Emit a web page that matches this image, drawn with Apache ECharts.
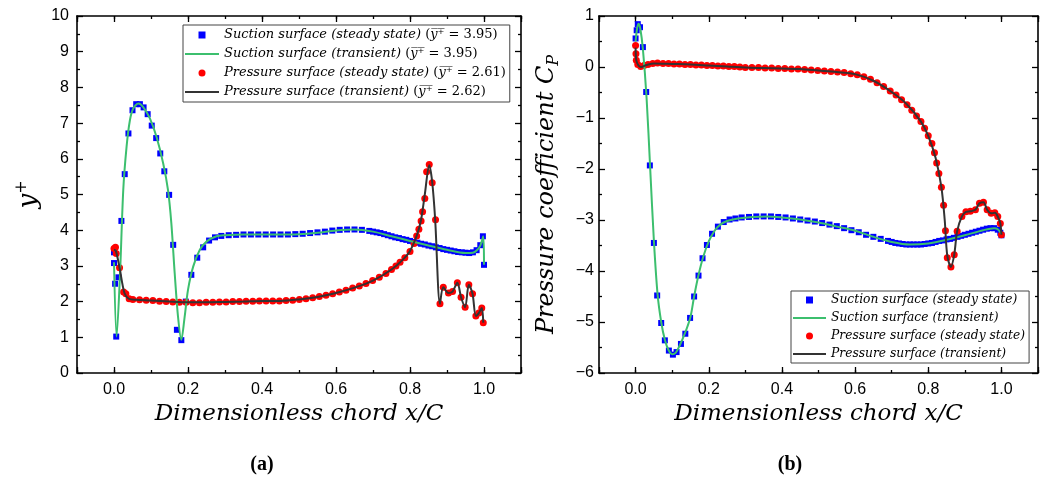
<!DOCTYPE html>
<html><head><meta charset="utf-8">
<script src="https://cdn.jsdelivr.net/npm/echarts@6/dist/echarts.min.js"></script>
<style>html,body{margin:0;padding:0;background:#fff}#c{width:1048px;height:482px}</style>
</head><body><div id="c"></div>
<script>
// ---------- DATA ----------
const seriesNames = ['Suction surface (steady state)', 'Suction surface (transient)', 'Pressure surface (steady state)', 'Pressure surface (transient)'];
const yPlusMeans = ['3.95', '3.95', '2.61', '2.62'];
const xTickLabels = ['0.0', '0.2', '0.4', '0.6', '0.8', '1.0'];

// (a) y+ distribution
const yPlusSuctionSteady = [[0,3.38],[0,3.08],[0.003,2.50],[0.006,1.02],[0.012,2.68],[0.02,4.26],[0.029,5.57],[0.039,6.71],[0.05,7.36],[0.06,7.53],[0.07,7.53],[0.08,7.44],[0.091,7.25],[0.102,6.93],[0.114,6.58],[0.125,6.15],[0.136,5.65],[0.149,4.99],[0.16,3.59],[0.17,1.21],[0.182,0.92],[0.194,2.0],[0.209,2.75],[0.225,3.23],[0.241,3.52],[0.257,3.71],[0.273,3.80],[0.29,3.84],[0.31,3.86],[0.33,3.87],[0.35,3.88],[0.37,3.88],[0.39,3.88],[0.41,3.88],[0.43,3.88],[0.45,3.88],[0.47,3.88],[0.49,3.89],[0.51,3.90],[0.53,3.92],[0.55,3.94],[0.57,3.96],[0.59,3.99],[0.61,4.01],[0.63,4.02],[0.65,4.02],[0.67,4.01],[0.69,3.98],[0.70,3.96],[0.71,3.94],[0.72,3.92],[0.73,3.89],[0.74,3.86],[0.75,3.83],[0.76,3.80],[0.77,3.78],[0.78,3.75],[0.79,3.73],[0.80,3.70],[0.81,3.67],[0.82,3.65],[0.83,3.62],[0.84,3.60],[0.85,3.57],[0.86,3.55],[0.87,3.52],[0.88,3.50],[0.89,3.47],[0.90,3.45],[0.91,3.43],[0.92,3.41],[0.93,3.39],[0.94,3.38],[0.95,3.37],[0.96,3.36],[0.97,3.38],[0.98,3.44],[0.99,3.58],[0.997,3.83],[1.0,3.03]];
const yPlusSuctionTransient = [[0,3.1],[0.007,1.02],[0.016,2.7],[0.025,5.12],[0.034,6.34],[0.043,7.08],[0.052,7.41],[0.066,7.55],[0.079,7.45],[0.097,7.13],[0.115,6.61],[0.133,5.87],[0.146,5.12],[0.155,4.19],[0.164,2.80],[0.173,1.58],[0.182,0.93],[0.191,1.58],[0.2,2.33],[0.214,2.98],[0.232,3.45],[0.25,3.68],[0.277,3.83],[0.3,3.86],[0.35,3.88],[0.4,3.88],[0.45,3.88],[0.5,3.89],[0.55,3.93],[0.6,3.99],[0.65,4.02],[0.7,3.96],[0.75,3.83],[0.8,3.70],[0.85,3.57],[0.9,3.45],[0.95,3.36],[0.97,3.37],[0.98,3.43],[0.99,3.57],[0.998,3.83],[1.0,3.03]];
const yPlusPressureSteady = [[0,3.49],[0.004,3.52],[0.006,3.35],[0.015,2.95],[0.026,2.27],[0.032,2.22],[0.041,2.08],[0.051,2.06],[0.069,2.05],[0.087,2.04],[0.105,2.03],[0.123,2.01],[0.141,2.0],[0.159,1.99],[0.177,1.98],[0.195,1.98],[0.213,1.97],[0.231,1.97],[0.249,1.98],[0.267,1.98],[0.285,1.99],[0.303,1.99],[0.321,2.0],[0.339,2.0],[0.357,2.01],[0.375,2.01],[0.393,2.02],[0.411,2.02],[0.429,2.02],[0.447,2.02],[0.465,2.03],[0.483,2.04],[0.501,2.06],[0.519,2.08],[0.537,2.11],[0.555,2.14],[0.573,2.18],[0.591,2.22],[0.609,2.27],[0.627,2.32],[0.645,2.38],[0.663,2.44],[0.681,2.51],[0.699,2.59],[0.717,2.68],[0.735,2.79],[0.75,2.90],[0.762,3.0],[0.773,3.10],[0.786,3.23],[0.80,3.40],[0.811,3.63],[0.818,3.84],[0.824,4.03],[0.83,4.26],[0.834,4.52],[0.84,4.89],[0.845,5.64],[0.852,5.84],[0.86,5.33],[0.869,4.29],[0.881,1.94],[0.89,2.40],[0.904,2.24],[0.915,2.28],[0.928,2.53],[0.938,2.12],[0.949,1.84],[0.959,2.47],[0.969,2.22],[0.978,1.60],[0.986,1.68],[0.994,1.82],[0.998,1.41]];
const yPlusPressureTransient = [[0,3.45],[0.005,3.42],[0.015,2.95],[0.028,2.25],[0.04,2.08],[0.06,2.05],[0.1,2.03],[0.15,2.0],[0.2,1.98],[0.25,1.98],[0.3,1.99],[0.35,2.0],[0.4,2.02],[0.45,2.02],[0.5,2.06],[0.55,2.13],[0.6,2.24],[0.65,2.39],[0.7,2.59],[0.75,2.90],[0.78,3.17],[0.8,3.42],[0.82,3.9],[0.83,4.3],[0.84,5.0],[0.852,5.82],[0.86,5.35],[0.868,4.3],[0.881,1.94],[0.89,2.40],[0.904,2.24],[0.915,2.28],[0.928,2.53],[0.938,2.12],[0.949,1.84],[0.959,2.47],[0.969,2.22],[0.978,1.60],[0.986,1.68],[0.994,1.82],[0.998,1.41]];

// (b) pressure coefficient
const cpSuctionSteady = [[0,0.56],[0.003,0.72],[0.006,0.84],[0.012,0.78],[0.02,0.39],[0.029,-0.49],[0.039,-1.93],[0.05,-3.45],[0.059,-4.48],[0.07,-5.02],[0.08,-5.36],[0.091,-5.56],[0.102,-5.64],[0.112,-5.59],[0.124,-5.43],[0.136,-5.23],[0.149,-4.92],[0.16,-4.50],[0.172,-4.09],[0.183,-3.75],[0.195,-3.49],[0.209,-3.27],[0.225,-3.13],[0.241,-3.04],[0.257,-2.99],[0.273,-2.97],[0.29,-2.95],[0.31,-2.94],[0.33,-2.93],[0.35,-2.93],[0.37,-2.93],[0.39,-2.94],[0.41,-2.95],[0.43,-2.97],[0.45,-2.99],[0.47,-3.01],[0.49,-3.03],[0.51,-3.06],[0.53,-3.09],[0.55,-3.12],[0.57,-3.16],[0.59,-3.20],[0.61,-3.24],[0.63,-3.29],[0.65,-3.33],[0.67,-3.37],[0.69,-3.41],[0.70,-3.43],[0.71,-3.45],[0.72,-3.46],[0.73,-3.47],[0.74,-3.48],[0.75,-3.48],[0.76,-3.48],[0.77,-3.48],[0.78,-3.48],[0.79,-3.47],[0.80,-3.46],[0.81,-3.45],[0.82,-3.43],[0.83,-3.41],[0.84,-3.40],[0.85,-3.38],[0.86,-3.37],[0.87,-3.35],[0.88,-3.33],[0.89,-3.31],[0.90,-3.29],[0.91,-3.27],[0.92,-3.25],[0.93,-3.23],[0.94,-3.21],[0.95,-3.19],[0.96,-3.17],[0.97,-3.16],[0.98,-3.16],[0.99,-3.19],[0.997,-3.25],[1.0,-3.30]];
const cpSuctionTransient = [[0,0.5],[0.004,0.75],[0.008,0.85],[0.013,0.75],[0.02,0.35],[0.03,-0.6],[0.04,-2.0],[0.05,-3.4],[0.06,-4.45],[0.07,-5.0],[0.08,-5.35],[0.09,-5.55],[0.1,-5.63],[0.11,-5.6],[0.12,-5.47],[0.135,-5.22],[0.15,-4.9],[0.16,-4.5],[0.172,-4.08],[0.185,-3.72],[0.2,-3.42],[0.215,-3.22],[0.23,-3.1],[0.25,-3.02],[0.28,-2.97],[0.32,-2.94],[0.36,-2.93],[0.4,-2.95],[0.45,-2.99],[0.5,-3.05],[0.55,-3.13],[0.6,-3.21],[0.65,-3.33],[0.7,-3.43],[0.75,-3.48],[0.8,-3.46],[0.85,-3.39],[0.9,-3.3],[0.95,-3.2],[0.98,-3.16],[0.99,-3.18],[1.0,-3.27]];
const cpPressureSteady = [[0,0.42],[0.001,0.26],[0.002,0.13],[0.006,0.05],[0.014,0.01],[0.023,0.03],[0.034,0.05],[0.047,0.07],[0.06,0.08],[0.075,0.07],[0.09,0.07],[0.105,0.06],[0.12,0.06],[0.135,0.05],[0.15,0.05],[0.165,0.04],[0.18,0.04],[0.195,0.03],[0.21,0.03],[0.225,0.02],[0.24,0.02],[0.255,0.01],[0.27,0.01],[0.285,0.0],[0.3,-0.01],[0.318,-0.01],[0.336,-0.01],[0.354,-0.02],[0.372,-0.02],[0.39,-0.03],[0.408,-0.03],[0.426,-0.04],[0.444,-0.04],[0.462,-0.05],[0.48,-0.06],[0.498,-0.07],[0.516,-0.08],[0.534,-0.09],[0.552,-0.10],[0.57,-0.11],[0.588,-0.13],[0.606,-0.15],[0.624,-0.19],[0.642,-0.24],[0.66,-0.31],[0.678,-0.38],[0.696,-0.47],[0.712,-0.55],[0.727,-0.64],[0.742,-0.74],[0.755,-0.85],[0.768,-0.96],[0.78,-1.07],[0.79,-1.2],[0.80,-1.35],[0.81,-1.5],[0.817,-1.68],[0.823,-1.88],[0.829,-2.09],[0.836,-2.36],[0.842,-2.71],[0.847,-3.21],[0.852,-3.74],[0.862,-3.92],[0.871,-3.68],[0.879,-3.22],[0.892,-2.93],[0.903,-2.84],[0.915,-2.83],[0.929,-2.80],[0.94,-2.67],[0.951,-2.65],[0.961,-2.80],[0.972,-2.87],[0.982,-2.86],[0.99,-2.93],[0.997,-3.07],[1.0,-3.29]];
const cpPressureTransient = [[0,0.38],[0.002,0.13],[0.008,0.03],[0.015,0.0],[0.03,0.04],[0.05,0.07],[0.1,0.06],[0.15,0.05],[0.2,0.03],[0.25,0.01],[0.3,-0.01],[0.35,-0.02],[0.4,-0.03],[0.45,-0.04],[0.5,-0.07],[0.55,-0.10],[0.6,-0.14],[0.65,-0.27],[0.7,-0.49],[0.74,-0.72],[0.78,-1.07],[0.8,-1.35],[0.82,-1.78],[0.836,-2.36],[0.845,-3.0],[0.852,-3.7],[0.862,-3.92],[0.871,-3.68],[0.879,-3.22],[0.892,-2.93],[0.903,-2.84],[0.915,-2.83],[0.929,-2.80],[0.94,-2.67],[0.951,-2.65],[0.961,-2.80],[0.972,-2.87],[0.982,-2.86],[0.99,-2.93],[0.997,-3.07],[1.0,-3.29]];

// ---------- STYLE ----------
const BLUE = '#0000ff', GREEN = '#3cbf6e', RED = '#ff0000', DARK = '#333333';
const SERIF = 'DejaVu Serif', SANS = 'Liberation Sans';
const axisLineStyle = { color: '#000', width: 1.6 };
const tickLine = { color: '#000', width: 1.3 };

function xAxesFor(gi) {
  const base = { type: 'value', gridIndex: gi, min: -0.1, max: 1.1, splitLine: { show: false } };
  return [
    Object.assign({}, base, {
      position: 'bottom',
      axisLine: { show: true, onZero: false, lineStyle: axisLineStyle },
      axisTick: { inside: true, length: 6, lineStyle: tickLine },
      axisLabel: { margin: 9, color: '#000', fontFamily: SANS, fontSize: 16,
        formatter: v => { const s = (Math.round(v * 10) / 10).toFixed(1); return xTickLabels.indexOf(s) >= 0 ? s : ''; } },
      name: 'Dimensionless chord x/C', nameLocation: 'middle', nameGap: 26,
      nameTextStyle: { fontFamily: SERIF, fontStyle: 'italic', fontSize: 23, color: '#000' }
    }),
    Object.assign({}, base, {
      position: 'bottom', interval: 0.1,
      axisLine: { show: false, onZero: false },
      axisTick: { inside: true, length: 3, lineStyle: tickLine },
      axisLabel: { show: false }
    }),
    Object.assign({}, base, {
      position: 'top',
      axisLine: { show: true, onZero: false, lineStyle: axisLineStyle },
      axisTick: { inside: true, length: 6, lineStyle: tickLine },
      axisLabel: { show: false }
    }),
    Object.assign({}, base, {
      position: 'top', interval: 0.1,
      axisLine: { show: false, onZero: false },
      axisTick: { inside: true, length: 3, lineStyle: tickLine },
      axisLabel: { show: false }
    })
  ];
}

function yAxesFor(gi, min, max, name, rich, gap, labelMargin) {
  const base = { type: 'value', gridIndex: gi, min: min, max: max, interval: 1, splitLine: { show: false },
    axisLine: { show: true, onZero: false, lineStyle: axisLineStyle },
    axisTick: { inside: true, length: 6, lineStyle: tickLine },
    minorTick: { show: true, splitNumber: 2, length: 3, lineStyle: tickLine } };
  return [
    Object.assign({}, base, {
      position: 'left',
      axisLabel: { margin: labelMargin, color: '#000', fontFamily: SANS, fontSize: 16,
        formatter: v => String(v).replace('-', '\u2212') },
      name: name, nameLocation: 'middle', nameGap: gap, nameRotate: 90,
      nameTextStyle: { color: '#000', rich: rich }
    }),
    Object.assign({}, base, { position: 'right', axisLabel: { show: false } })
  ];
}

const legendRich = (fs) => ({
  it: { fontFamily: SERIF, fontStyle: 'italic', fontSize: fs, color: '#000' },
  rm: { fontFamily: SERIF, fontSize: fs, color: '#000' }
});
const squareIcon = 'path://M0,0L10,0L10,10L0,10Z';
const lineIcon = 'path://M0,0L34,0L34,2L0,2Z';
const legendData = [
  { name: seriesNames[0], icon: squareIcon },
  { name: seriesNames[1], icon: lineIcon },
  { name: seriesNames[2], icon: 'circle' },
  { name: seriesNames[3], icon: lineIcon }
];

function seriesFor(xi, yi, d) {
  return [
    { type: 'scatter', name: seriesNames[0], xAxisIndex: xi, yAxisIndex: yi, data: d[0], symbol: 'rect', symbolSize: 6, itemStyle: { color: BLUE, opacity: 1 } },
    { type: 'line', name: seriesNames[1], xAxisIndex: xi, yAxisIndex: yi, data: d[1], symbol: 'none', showSymbol: false, smooth: 0.3, lineStyle: { color: GREEN, width: 2 }, itemStyle: { color: GREEN } },
    { type: 'scatter', name: seriesNames[2], xAxisIndex: xi, yAxisIndex: yi, data: d[2], symbol: 'circle', symbolSize: 7, itemStyle: { color: RED, opacity: 1 } },
    { type: 'line', name: seriesNames[3], xAxisIndex: xi, yAxisIndex: yi, data: d[3], symbol: 'none', showSymbol: false, smooth: 0.3, lineStyle: { color: DARK, width: 2 }, itemStyle: { color: DARK } }
  ];
}

const chart = echarts.init(document.getElementById('c'), null, { renderer: 'canvas' });
chart.setOption({
  animation: false,
  backgroundColor: '#fff',
  grid: [
    { left: 77, top: 16, width: 444, height: 357 },
    { left: 599, top: 16, width: 439, height: 357 }
  ],
  xAxis: xAxesFor(0).concat(xAxesFor(1)),
  yAxis: yAxesFor(0, 0, 10, '{i|y}{s|+}', {
      i: { fontFamily: SERIF, fontStyle: 'italic', fontSize: 26, color: '#000', lineHeight: 30 },
      s: { fontFamily: SERIF, fontSize: 16, color: '#000', verticalAlign: 'top', lineHeight: 30 }
    }, 33, 8)
    .concat(yAxesFor(1, -6, 1, '{i|Pressure coefficient C}{b|P}', {
      i: { fontFamily: SERIF, fontStyle: 'italic', fontSize: 24, color: '#000', lineHeight: 30 },
      b: { fontFamily: SERIF, fontStyle: 'italic', fontSize: 16, color: '#000', verticalAlign: 'bottom', lineHeight: 26 }
    }, 37, 5)),
  legend: [
    { left: 183, top: 25, orient: 'vertical', itemWidth: 34, itemHeight: 7, itemGap: 5,
      padding: [3, 4, 3, 2], backgroundColor: '#fff', borderColor: '#444', borderWidth: 1,
      selectedMode: false, data: legendData,
      formatter: name => {
        const k = seriesNames.indexOf(name);
        return '{it|' + name + '}{rm| (}{it|y\u0305}{rm|\u207A\u0305 = ' + yPlusMeans[k] + ')}';
      },
      textStyle: { fontFamily: SERIF, fontSize: 13, lineHeight: 14, color: '#000', rich: legendRich(13) } },
    { left: 791, top: 291, orient: 'vertical', itemWidth: 33, itemHeight: 7, itemGap: 4,
      padding: [2, 4, 2, 2], backgroundColor: '#fff', borderColor: '#444', borderWidth: 1,
      selectedMode: false, data: legendData,
      formatter: name => '{it|' + name + '}',
      textStyle: { fontFamily: SERIF, fontSize: 12.3, lineHeight: 14, color: '#000', rich: legendRich(12.3) } }
  ],
  graphic: [
    { type: 'text', x: 262, y: 465, style: { text: '(a)', align: 'center', verticalAlign: 'middle', font: 'bold 20px "Liberation Serif"', fill: '#000' } },
    { type: 'text', x: 790, y: 465, style: { text: '(b)', align: 'center', verticalAlign: 'middle', font: 'bold 20px "Liberation Serif"', fill: '#000' } }
  ],
  series: seriesFor(0, 0, [yPlusSuctionSteady, yPlusSuctionTransient, yPlusPressureSteady, yPlusPressureTransient])
    .concat(seriesFor(4, 2, [cpSuctionSteady, cpSuctionTransient, cpPressureSteady, cpPressureTransient]))
});
</script></body></html>
